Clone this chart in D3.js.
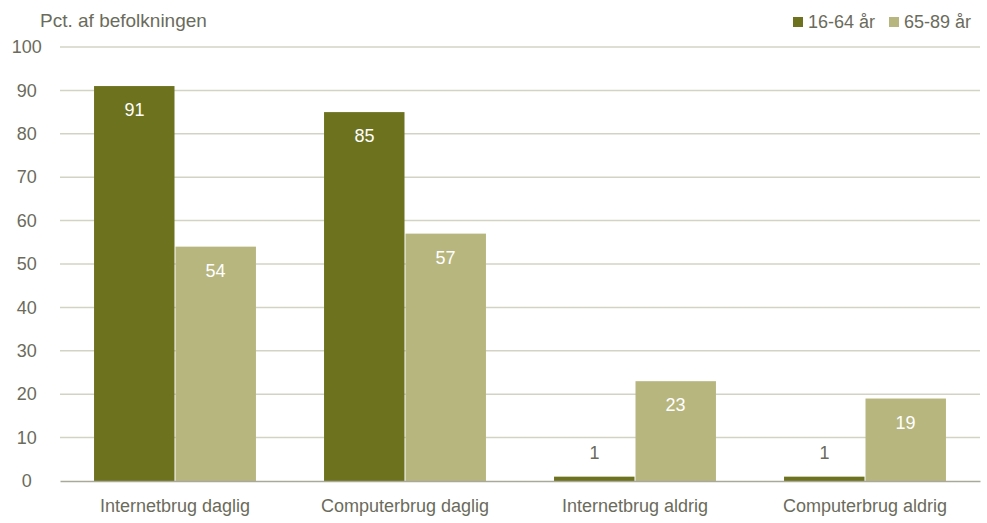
<!DOCTYPE html>
<meta charset="utf-8">
<head>
<style type='text/css'>
  body {
    margin: 0;
    font-family: 'Liberation Sans', Arial, sans-serif;
    background: #fff;
  }
  .axis text {
    fill: #6b6b5c;
    font-size: 18px;
  }
  .grid line {
    stroke: #d3d3c4;
    stroke-width: 1.5;
  }
</style>
</head>
<body>
<svg id="chart" width="987" height="523"></svg>
<script src="https://d3js.org/d3.v7.min.js"></script>
<script>
// data
var categories = ["Internetbrug daglig", "Computerbrug daglig", "Internetbrug aldrig", "Computerbrug aldrig"];
var seriesNames = ["16-64 år", "65-89 år"];
var young = [91, 85, 1, 1];
var old = [54, 57, 23, 19];
var yTicks = [0, 10, 20, 30, 40, 50, 60, 70, 80, 90, 100];

var colors = ["#6d721e", "#b8b67f"];
var textGrey = "#6b6b5c";

var svg = d3.select("#chart"),
    margin = {top: 47, right: 7, bottom: 42, left: 60},
    width = +svg.attr("width") - margin.left - margin.right,
    height = +svg.attr("height") - margin.top - margin.bottom,
    g = svg.append("g").attr("transform", "translate(" + margin.left + "," + margin.top + ")");

var x0 = d3.scaleBand()
    .domain(categories)
    .range([0, width])
    .paddingInner(0.296)
    .paddingOuter(0.148);

var x1 = d3.scaleBand()
    .domain(seriesNames)
    .range([0, x0.bandwidth()]);

var y = d3.scaleLinear()
    .domain([0, 100])
    .range([height, 0]);

// gridlines
g.append("g")
    .attr("class", "grid")
  .selectAll("line")
  .data(yTicks.slice(1))
  .enter().append("line")
    .attr("x1", 0)
    .attr("x2", width)
    .attr("y1", function(d) { return y(d); })
    .attr("y2", function(d) { return y(d); });

// y axis labels
var yAxis = g.append("g")
    .attr("class", "axis")
    .call(d3.axisLeft(y).tickValues(yTicks).tickSize(0).tickPadding(18));
yAxis.select(".domain").remove();
yAxis.selectAll("text").attr("text-anchor", "middle").attr("dx", "-0.85em");

// data rows
var rows = categories.map(function(c, i) {
  return {cat: c, values: [young[i], old[i]]};
});

var groups = g.append("g")
  .selectAll("g")
  .data(rows)
  .enter().append("g")
    .attr("transform", function(d) { return "translate(" + x0(d.cat) + ",0)"; });

var bars = groups.selectAll("g")
  .data(function(d) { return d.values.map(function(v, j) { return {key: seriesNames[j], value: v, j: j}; }); })
  .enter().append("g");

bars.append("rect")
    .attr("x", function(d) { return x1(d.key) + (d.j === 1 ? 0.5 : 0); })
    .attr("y", function(d) { return y(d.value); })
    .attr("width", function(d) { return x1.bandwidth() - 0.5; })
    .attr("height", function(d) { return height - y(d.value); })
    .attr("fill", function(d) { return colors[d.j]; });

bars.append("text")
    .attr("x", function(d) { return x1(d.key) + x1.bandwidth() / 2; })
    .attr("y", function(d) { return d.value < 5 ? y(d.value) - 18 : y(d.value) + 30; })
    .attr("text-anchor", "middle")
    .attr("font-size", "18px")
    .attr("fill", function(d) { return d.value < 5 ? textGrey : "#fff"; })
    .text(function(d) { return d.value; });

// x axis
var xAxis = g.append("g")
    .attr("class", "axis")
    .attr("transform", "translate(0," + height + ")")
    .call(d3.axisBottom(x0).tickSize(0).tickPadding(14));
xAxis.select(".domain").attr("stroke", "#a9a99a").attr("stroke-width", 1.5);
xAxis.selectAll("text").attr("dy", "0.95em");

// title
svg.append("text")
    .attr("x", 40)
    .attr("y", 27)
    .attr("font-size", "19px")
    .attr("fill", textGrey)
    .text("Pct. af befolkningen");

// legend
var legendX = [793, 889];
var legend = svg.append("g")
  .selectAll("g")
  .data(seriesNames)
  .enter().append("g")
    .attr("transform", function(d, i) { return "translate(" + legendX[i] + ",0)"; });

legend.append("rect")
    .attr("y", 17)
    .attr("width", 10)
    .attr("height", 10)
    .attr("fill", function(d, i) { return colors[i]; });

legend.append("text")
    .attr("x", 15)
    .attr("y", 28)
    .attr("font-size", "18px")
    .attr("fill", textGrey)
    .text(function(d) { return d; });
</script>
</body>
